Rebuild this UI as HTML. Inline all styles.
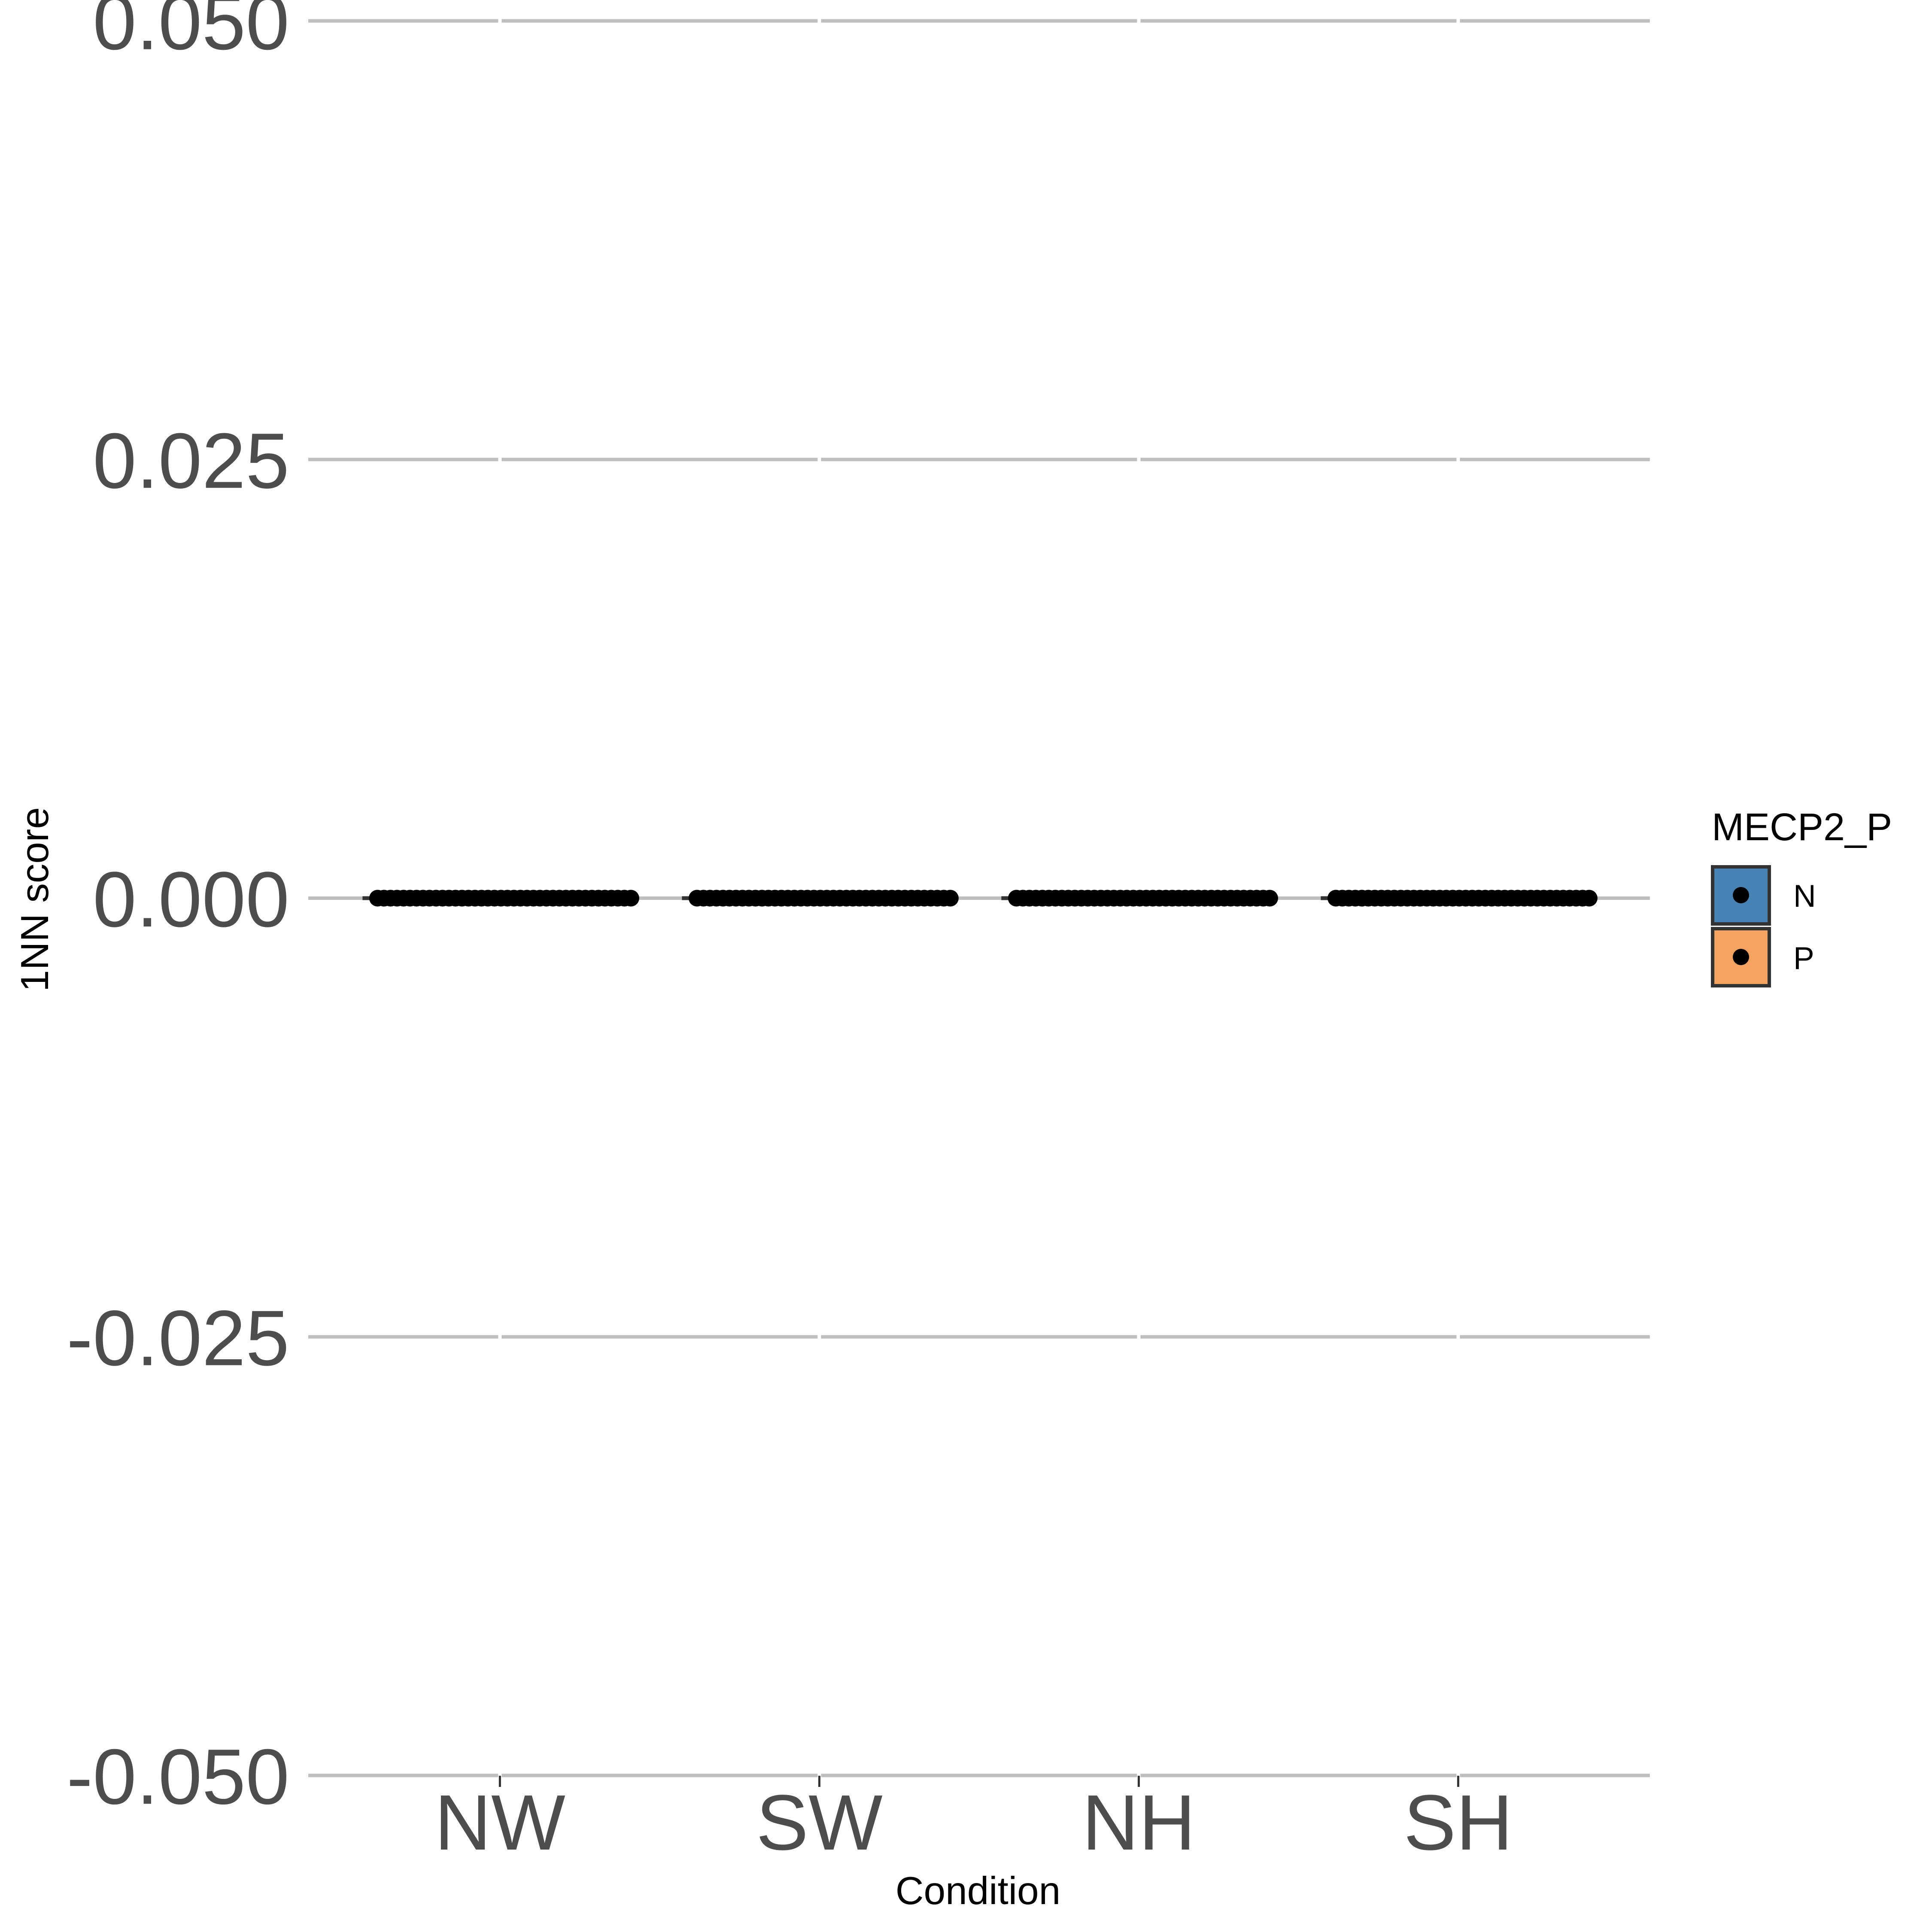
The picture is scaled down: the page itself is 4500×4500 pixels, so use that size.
<!DOCTYPE html>
<html><head><meta charset="utf-8"><style>
html,body{margin:0;padding:0;background:#fff;}
svg{display:block;font-family:"Liberation Sans",Arial,sans-serif;}
</style></head><body>
<svg id="chart" width="4500" height="4500" viewBox="0 0 4500 4500" xmlns="http://www.w3.org/2000/svg">
<rect width="4500" height="4500" fill="#fff"/>
<g id="grid"></g>
<g id="marks"></g>
<g id="axes"></g>
<text transform="translate(112,2095) rotate(-90)" text-anchor="middle" font-size="91" fill="#000">1NN score</text>
<text x="2278" y="4435" text-anchor="middle" font-size="91" fill="#000">Condition</text>
<g>
<text x="3987" y="1957" font-size="90" fill="#000">MECP2_P</text>
<g>
<rect x="3989" y="2019" width="132" height="133" fill="#4682b4" stroke="#333" stroke-width="8"/>
<circle cx="4055" cy="2085" r="19" fill="#000"/>
<text x="4177" y="2112" font-size="73" fill="#000">N</text>
</g>
<g>
<rect x="3989" y="2163" width="132" height="133" fill="#f4a460" stroke="#333" stroke-width="8"/>
<circle cx="4055" cy="2229" r="19" fill="#000"/>
<text x="4177" y="2257" font-size="73" fill="#000">P</text>
</g>
</g>
</svg>
<script>
const categories = ["NW","SW","NH","SH"];
const yTicks = [0.05, 0.025, 0, -0.025, -0.05];
const yTickLabels = ["0.050","0.025","0.000","-0.025","-0.050"];
const medianValues = [0, 0, 0, 0];
const pointValuesNW = [0,0,0,0,0,0,0,0,0,0,0,0,0,0,0,0,0,0,0,0,0,0,0,0,0,0,0,0,0,0,0,0,0,0,0,0,0,0,0,0];
const pointValuesSW = [0,0,0,0,0,0,0,0,0,0,0,0,0,0,0,0,0,0,0,0,0,0,0,0,0,0,0,0,0,0,0,0,0,0,0,0,0,0,0,0];
const pointValuesNH = [0,0,0,0,0,0,0,0,0,0,0,0,0,0,0,0,0,0,0,0,0,0,0,0,0,0,0,0,0,0,0,0,0,0,0,0,0,0,0,0];
const pointValuesSH = [0,0,0,0,0,0,0,0,0,0,0,0,0,0,0,0,0,0,0,0,0,0,0,0,0,0,0,0,0,0,0,0,0,0,0,0,0,0,0,0];
const pointSeries = [pointValuesNW, pointValuesSW, pointValuesNH, pointValuesSH];

const NS = "http://www.w3.org/2000/svg";
const plotL = 718, step = 744, plotR = plotL + step*4.2;
function xScale(i){ return plotL + step*(i+0.6); }
function yScale(v){ return 2092 - v/0.025*1021.7; }
function mk(tag, attrs, parent){
  const e = document.createElementNS(NS, tag);
  for (const k in attrs) e.setAttribute(k, attrs[k]);
  parent.appendChild(e); return e;
}
const grid = document.getElementById('grid');
const marks = document.getElementById('marks');
const axes = document.getElementById('axes');

yTicks.forEach((t,i)=>{
  const y = yScale(t);
  const l = mk('line',{x1:plotL,x2:plotR,y1:y,y2:y,stroke:'#bebebe','stroke-width':8},grid);
  
  
  const tx = mk('text',{x:674,y:y+66,'text-anchor':'end','font-size':183,fill:'#4d4d4d'},axes);
  tx.textContent = yTickLabels[i];
  
  
});
categories.forEach((c,i)=>{
  const x = xScale(i);
  const g = mk('line',{x1:x,x2:x,y1:40,y2:4140,stroke:'#fff','stroke-width':8},grid);
  
  
  const tk = mk('line',{x1:x,x2:x,y1:4136,y2:4162,stroke:'#333','stroke-width':5},axes);
  
  
  const tx = mk('text',{x:x,y:4308,'text-anchor':'middle','font-size':183,fill:'#4d4d4d'},axes);
  tx.textContent = c;
  
  
  const my = yScale(medianValues[i]);
  const box = mk('line',{x1:x-320,x2:x+320,y1:my,y2:my,stroke:'#333','stroke-width':9},marks);
  
  
  const pts = pointSeries[i];
  pts.forEach((v,j)=>{
    const px = x - 285 + 590*j/(pts.length-1);
    const p = mk('circle',{cx:px,cy:yScale(v),r:19.5,fill:'#000'},marks);
    
    
  });
});
</script>
</body></html>
